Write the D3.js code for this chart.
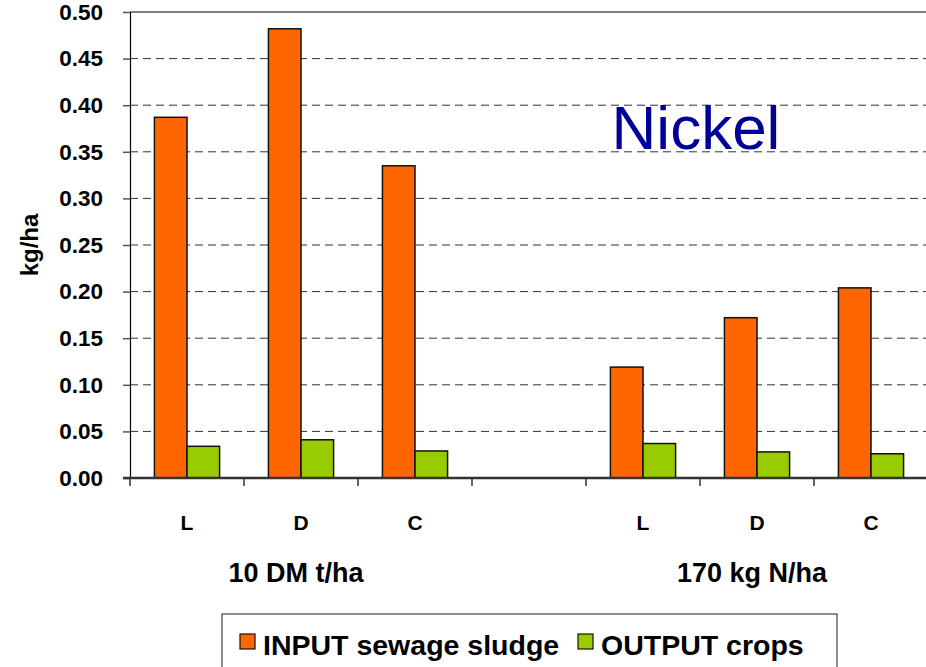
<html>
<head>
<script src="https://cdnjs.cloudflare.com/ajax/libs/d3/7.8.5/d3.min.js"></script>
<style>
  body { margin: 0; background: #fff; }
  text { font-family: "Liberation Sans", Arial, sans-serif; }
</style>
</head>
<body>
<svg width="926" height="667"></svg>
<script>
// data
let slots = ["L1", "D1", "C1", "gap", "L2", "D2", "C2"];
let slotLabels = ["L", "D", "C", "", "L", "D", "C"];
let inputSludge = [0.387, 0.482, 0.335, null, 0.119, 0.172, 0.204];
let outputCrops = [0.034, 0.041, 0.029, null, 0.037, 0.028, 0.026];
let groupLabels = ["10 DM t/ha", "170 kg N/ha"];
let groupCenters = ["D1", "D2"];
let yTicks = [0, 0.05, 0.10, 0.15, 0.20, 0.25, 0.30, 0.35, 0.40, 0.45, 0.50];
let seriesNames = ["INPUT sewage sludge", "OUTPUT crops"];
let seriesColors = ["#ff6600", "#99cc00"];

var svg = d3.select("svg");
var plotLeft = 130, plotTop = 12, plotRight = 928, plotBottom = 478;

var x = d3.scaleBand().domain(slots).range([plotLeft, plotRight]).padding(0);
var y = d3.scaleLinear().domain([0, 0.5]).range([plotBottom, plotTop]);
var inner = d3.scaleBand().domain([0, 1]).range([0, x.bandwidth()]).paddingOuter(0.75).paddingInner(0);

// dashed grid
svg.append("g")
    .selectAll("line")
    .data(yTicks.filter(d => d > 0 && d < 0.5))
    .enter()
    .append("line")
    .attr("x1", plotLeft).attr("x2", 926)
    .attr("y1", d => y(d)).attr("y2", d => y(d))
    .style("stroke", "#333")
    .style("stroke-width", 1)
    .style("stroke-dasharray", "8,5");

// top border
svg.append("line")
    .attr("x1", plotLeft).attr("x2", 926)
    .attr("y1", y(0.5)).attr("y2", y(0.5))
    .style("stroke", "#000").style("stroke-width", 1.2);

// y axis
var yAxis = d3.axisLeft(y).tickValues(yTicks).tickFormat(d3.format(".2f")).tickSize(7).tickPadding(20);
var gy = svg.append("g").attr("transform", "translate(" + plotLeft + ",0)").call(yAxis);
gy.select(".domain").style("stroke", "#000").style("stroke-width", 1.2);
gy.selectAll(".tick line").style("stroke", "#555").style("stroke-width", 1.5);
gy.selectAll("text").style("font-size", "22.5px").style("font-weight", "bold").attr("fill", "#000");

// bars
var series = [inputSludge, outputCrops];
series.forEach((vals, i) => {
    svg.append("g")
        .selectAll("rect")
        .data(slots.map((s, k) => ({ s: s, v: vals[k] })).filter(d => d.v != null))
        .enter()
        .append("rect")
        .attr("x", d => x(d.s) + inner(i))
        .attr("width", inner.bandwidth())
        .attr("y", d => y(d.v))
        .attr("height", d => y(0) - y(d.v))
        .style("fill", seriesColors[i])
        .style("stroke", "#111")
        .style("stroke-width", 1.5);
});

// x axis
var gx = svg.append("g").attr("transform", "translate(0," + plotBottom + ")");
gx.append("line").attr("x1", plotLeft - 7).attr("x2", 926)
    .style("stroke", "#333").style("stroke-width", 2.5);
gx.selectAll("line.tk")
    .data(slots.concat(["end"]))
    .enter()
    .append("line")
    .attr("class", "tk")
    .attr("x1", (d, i) => plotLeft + i * x.step())
    .attr("x2", (d, i) => plotLeft + i * x.step())
    .attr("y1", 0).attr("y2", 8)
    .style("stroke", "#333").style("stroke-width", 1.5);
gx.selectAll("text.cat")
    .data(slots)
    .enter()
    .append("text")
    .attr("class", "cat")
    .attr("x", d => x(d) + x.bandwidth() / 2)
    .attr("y", 52)
    .attr("text-anchor", "middle")
    .style("font-size", "21px").style("font-weight", "bold")
    .text((d, i) => slotLabels[i]);
gx.selectAll("text.grp")
    .data(groupLabels)
    .enter()
    .append("text")
    .attr("class", "grp")
    .attr("x", (d, i) => x(groupCenters[i]) + x.bandwidth() / 2 - 5)
    .attr("y", 104)
    .attr("text-anchor", "middle")
    .style("font-size", "27px").style("font-weight", "bold")
    .text(d => d);

// y label
svg.append("text")
    .attr("transform", "translate(38,245) rotate(-90)")
    .attr("text-anchor", "middle")
    .style("font-size", "24px").style("font-weight", "bold")
    .text("kg/ha");

// title
svg.append("text")
    .attr("x", 696).attr("y", 149)
    .attr("text-anchor", "middle")
    .style("font-size", "62px").style("fill", "#000099")
    .text("Nickel");

// legend
var lg = svg.append("g");
lg.append("rect").attr("x", 222).attr("y", 614).attr("width", 615).attr("height", 60)
    .style("fill", "#fff").style("stroke", "#444").style("stroke-width", 1.2);
var legendX = [240, 578];
seriesNames.forEach((n, i) => {
    lg.append("rect").attr("x", legendX[i]).attr("y", 634).attr("width", 15).attr("height", 15)
        .style("fill", seriesColors[i]).style("stroke", "#111").style("stroke-width", 1.2);
    lg.append("text").attr("x", legendX[i] + 23).attr("y", 655)
        .style("font-size", "28.5px").style("font-weight", "bold")
        .text(n);
});
</script>
</body>
</html>
